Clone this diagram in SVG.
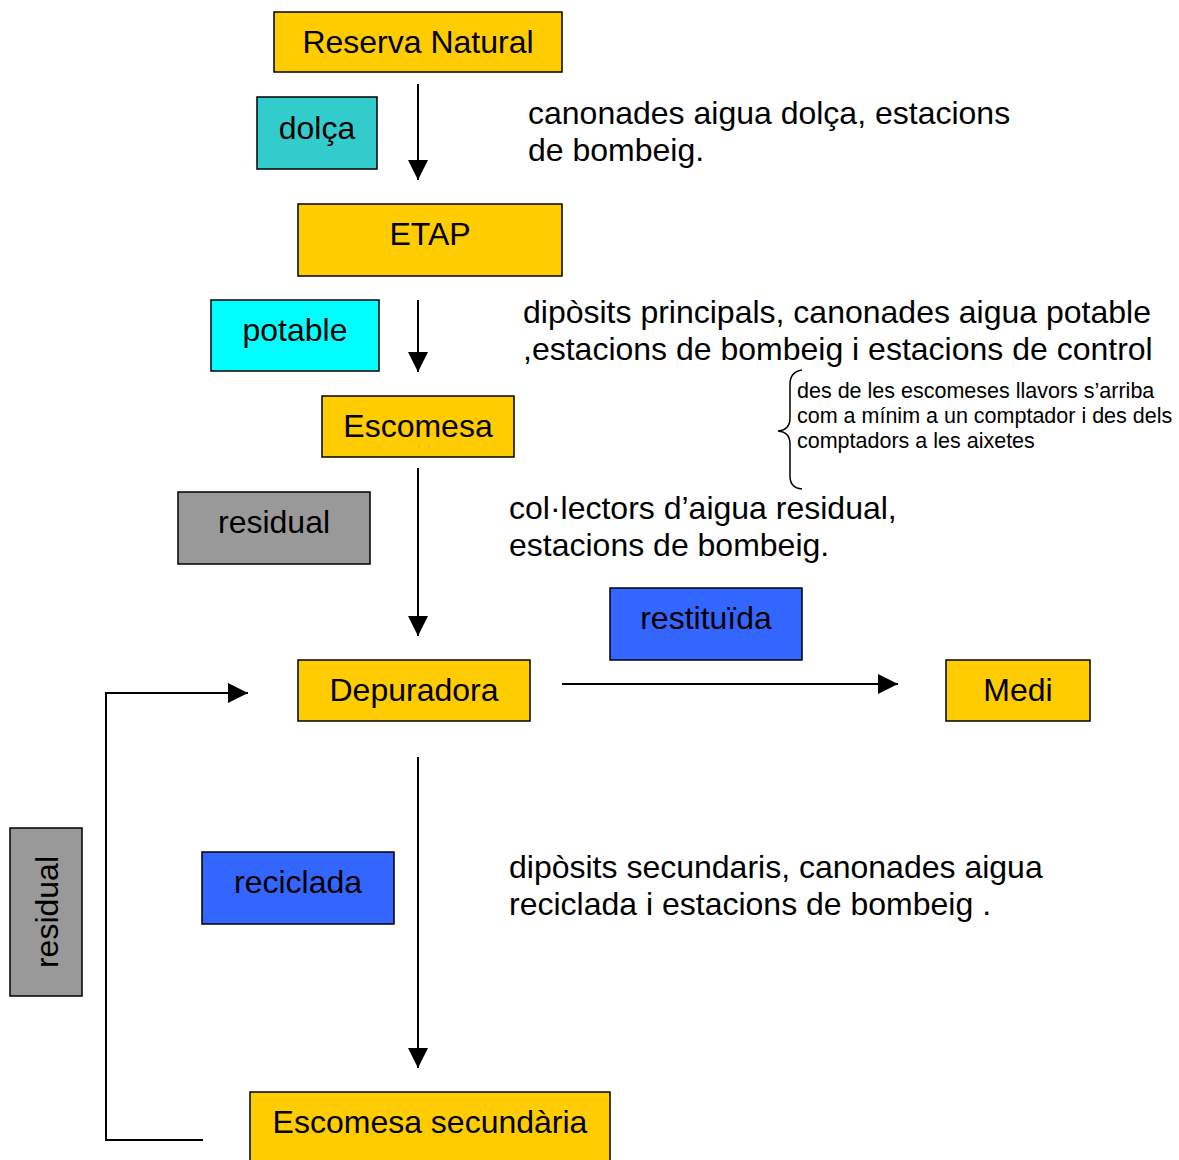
<svg xmlns="http://www.w3.org/2000/svg" width="1179" height="1160" viewBox="0 0 1179 1160">
  <style>
    text { font-family: "Liberation Sans", Arial, sans-serif; fill: #000; }
    .lbl { font-size: 32px; text-anchor: middle; }
    .note { font-size: 32px; }
    .small { font-size: 21.5px; }
    .box { stroke: #000; stroke-width: 1.5; }
    .yellow { fill: #FFCC00; }
    .teal { fill: #33CCCC; }
    .cyan { fill: #00FFFF; }
    .grey { fill: #999999; }
    .blue { fill: #3366FF; }
    .conn { stroke: #000; stroke-width: 2; fill: none; }
  </style>
  <defs>
    <marker id="arrow" markerUnits="userSpaceOnUse" markerWidth="22" markerHeight="20" refX="20" refY="10" orient="auto">
      <path d="M0,0 L20,10 L0,20 Z" fill="#000"/>
    </marker>
  </defs>
  <rect width="1179" height="1160" fill="#fff"/>

  <!-- connectors -->
  <g id="connectors">
    <line class="conn" x1="418" y1="84" x2="418" y2="180" marker-end="url(#arrow)"/>
    <line class="conn" x1="418" y1="300" x2="418" y2="372" marker-end="url(#arrow)"/>
    <line class="conn" x1="418" y1="468" x2="418" y2="636" marker-end="url(#arrow)"/>
    <line class="conn" x1="562" y1="684" x2="898" y2="684" marker-end="url(#arrow)"/>
    <line class="conn" x1="418" y1="757" x2="418" y2="1068" marker-end="url(#arrow)"/>
    <polyline class="conn" points="203,1140 106,1140 106,693 248,693" marker-end="url(#arrow)"/>
  </g>

  <!-- nodes -->
  <g id="reserva-natural">
    <rect class="box yellow" x="274" y="12" width="288" height="60"/>
    <text class="lbl" x="418" y="53">Reserva Natural</text>
  </g>
  <g id="dolca">
    <rect class="box teal" x="257" y="97" width="120" height="72"/>
    <text class="lbl" x="317" y="139">dolça</text>
  </g>
  <g id="etap">
    <rect class="box yellow" x="298" y="204" width="264" height="72"/>
    <text class="lbl" x="430" y="245">ETAP</text>
  </g>
  <g id="potable">
    <rect class="box cyan" x="211" y="300" width="168" height="71"/>
    <text class="lbl" x="295" y="341">potable</text>
  </g>
  <g id="escomesa">
    <rect class="box yellow" x="322" y="396" width="192" height="61"/>
    <text class="lbl" x="418" y="437">Escomesa</text>
  </g>
  <g id="residual">
    <rect class="box grey" x="178" y="492" width="192" height="72"/>
    <text class="lbl" x="274" y="533">residual</text>
  </g>
  <g id="restituida">
    <rect class="box blue" x="610" y="588" width="192" height="72"/>
    <text class="lbl" x="706" y="629">restituïda</text>
  </g>
  <g id="depuradora">
    <rect class="box yellow" x="298" y="660" width="232" height="61"/>
    <text class="lbl" x="414" y="701">Depuradora</text>
  </g>
  <g id="medi">
    <rect class="box yellow" x="946" y="660" width="144" height="61"/>
    <text class="lbl" x="1018" y="701">Medi</text>
  </g>
  <g id="residual-retorn">
    <rect class="box grey" x="10" y="828" width="72" height="168"/>
    <text class="lbl" x="0" y="0" transform="translate(58,912) rotate(-90)">residual</text>
  </g>
  <g id="reciclada">
    <rect class="box blue" x="202" y="852" width="192" height="72"/>
    <text class="lbl" x="298" y="893">reciclada</text>
  </g>
  <g id="escomesa-secundaria">
    <rect class="box yellow" x="250" y="1092" width="360" height="80"/>
    <text class="lbl" x="430" y="1133">Escomesa secundària</text>
  </g>

  <!-- descriptive notes -->
  <g id="notes">
    <text class="note" x="528" y="124">canonades aigua dolça, estacions</text>
    <text class="note" x="528" y="161">de bombeig.</text>
    <text class="note" x="523" y="323">dipòsits principals, canonades aigua potable</text>
    <text class="note" x="523" y="360">,estacions de bombeig i estacions de control</text>
    <text class="note" x="509" y="519">col·lectors d’aigua residual,</text>
    <text class="note" x="509" y="556">estacions de bombeig.</text>
    <text class="note" x="509" y="878">dipòsits secundaris, canonades aigua</text>
    <text class="note" x="509" y="915">reciclada i estacions de bombeig .</text>
  </g>

  <!-- brace with side note -->
  <g id="brace-note">
    <path d="M802,370 Q790,372 790,384 L790,418 Q790,430 778,431 Q790,432 790,444 L790,476 Q790,488 802,489" fill="none" stroke="#000" stroke-width="1.5"/>
    <text class="small" x="797" y="398">des de les escomeses llavors s’arriba</text>
    <text class="small" x="797" y="423">com a mínim a un comptador i des dels</text>
    <text class="small" x="797" y="448">comptadors a les aixetes</text>
  </g>
</svg>
